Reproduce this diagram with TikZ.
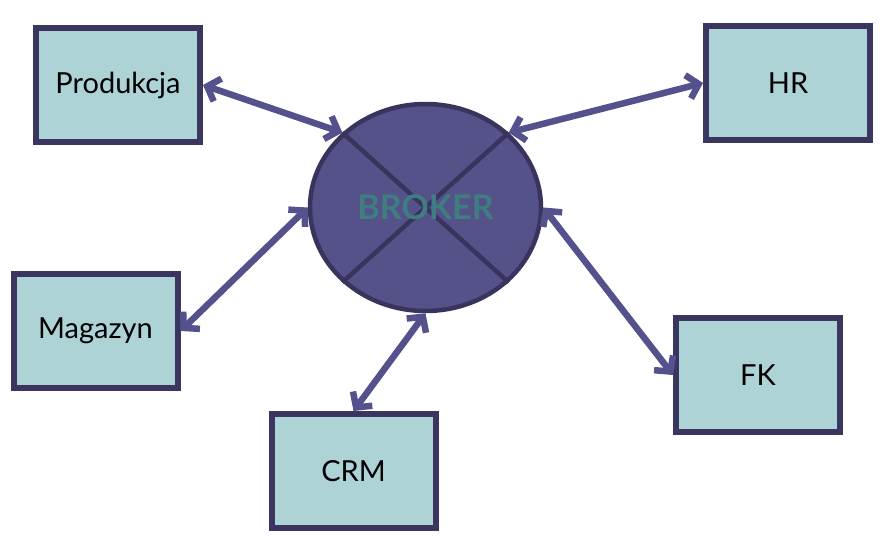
\documentclass[tikz,border=0pt]{standalone}
\usepackage{fontspec}
\setmainfont{Lato}
\usetikzlibrary{shapes.geometric,arrows.meta}
\definecolor{boxfill}{HTML}{AED3D7}
\definecolor{boxline}{HTML}{3B3660}
\definecolor{brokerfill}{HTML}{55528A}
\definecolor{brokerline}{HTML}{38345E}
\definecolor{brokertext}{HTML}{3E7E80}
\definecolor{linkcol}{HTML}{54528C}
\begin{document}
\begin{tikzpicture}[x=1pt,y=-1pt,
		modul/.style={draw=boxline, fill=boxfill, line width=6pt, minimum width=164pt, minimum height=114pt, inner sep=0pt, font=\fontsize{29}{34}\selectfont},
		link/.style={draw=linkcol, line width=6.5pt, line cap=round, {Straight Barb[length=11pt,width=24pt]}-{Straight Barb[length=11pt,width=24pt]}}]
		\useasboundingbox (0,0) rectangle (885,537);
		\node [ellipse, draw=brokerline, fill=brokerfill, line width=4.5pt, minimum width=231pt, minimum height=207pt, inner sep=0pt] (B) at (425.5,207.5) {};
		\draw [brokerline, line width=4.5pt] (B.138) to (B.318);
		\draw [brokerline, line width=4.5pt] (B.42) to (B.222);
		\node [text=brokertext, font=\fontsize{34}{40}\selectfont\bfseries] at (B.center) {BROKER};
		\node [modul] (Prod) at (118,85) {Produkcja};
		\node [modul] (HR) at (788,83) {HR};
		\node [modul] (Mag) at (95.5,331) {Magazyn};
		\node [modul] (FK) at (758,375) {FK};
		\node [modul] (CRM) at (353.5,471) {CRM};
		\draw [link] (Prod.east) to (B.138);
		\draw [link] (HR.west) to (B.42);
		\draw [link] (Mag.east) to (B.west);
		\draw [link] (CRM.north) to (B.south);
		\draw [link] (FK.west) to (B.east);
	\end{tikzpicture}
\end{document}
